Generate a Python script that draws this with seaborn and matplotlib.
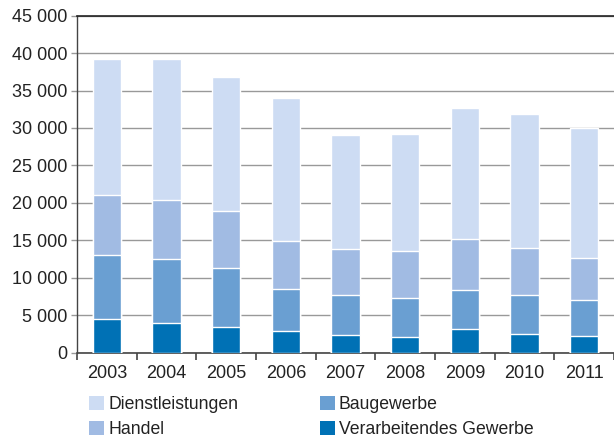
import matplotlib
matplotlib.use("Agg")
import matplotlib.pyplot as plt
import seaborn as sns
import pandas as pd
import numpy as np
from matplotlib.patches import Patch
from matplotlib.ticker import FuncFormatter, FixedLocator

# Employment by sector, 2003-2011
years = ["2003", "2004", "2005", "2006", "2007", "2008", "2009", "2010", "2011"]
verarbeitendes = [4500, 4000, 3400, 2900, 2400, 2100, 3200, 2500, 2200]
baugewerbe = [8500, 8500, 7900, 5600, 5300, 5200, 5200, 5200, 4800]
handel = [8000, 7900, 7600, 6400, 6100, 6300, 6800, 6300, 5600]
dienstleistungen = [18200, 18800, 17900, 19100, 15200, 15600, 17500, 17900, 17400]

series = ["Verarbeitendes Gewerbe", "Baugewerbe", "Handel", "Dienstleistungen"]
values = [verarbeitendes, baugewerbe, handel, dienstleistungen]
colors = ["#0071b5", "#6a9fd2", "#a1bbe3", "#cddcf3"]

df = pd.DataFrame({"Jahr": years})
cum = np.zeros(len(years))
for name, vals in zip(series, values):
    cum = cum + np.array(vals)
    df[name] = cum

sns.set_theme(style="white")
plt.rcParams["font.family"] = ["Liberation Sans", "DejaVu Sans"]
text_color = "#222222"

fig = plt.figure(figsize=(6.14, 4.38), dpi=100)
ax = fig.add_axes([77 / 614, 1 - 352.5 / 438, (614 - 77) / 614, (352.5 - 15.7) / 438])

# stacked bars: draw cumulative totals from the top segment down
for name, color in zip(series[::-1], colors[::-1]):
    sns.barplot(data=df, x="Jahr", y=name, color=color, width=0.48,
                saturation=1, ax=ax, zorder=3)

ax.set_ylim(0, 45000)
ax.set_xlim(-0.5, len(years) - 0.5)
ax.set_yticks(np.arange(0, 45001, 5000))
ax.yaxis.set_major_formatter(FuncFormatter(lambda v, p: f"{int(v):,}".replace(",", " ")))
ax.set_xlabel("")
ax.set_ylabel("")

ax.grid(axis="y", color="#999999", linewidth=1.0, zorder=0)
ax.set_axisbelow(True)

ax.spines["right"].set_visible(False)
ax.spines["top"].set_color("#222222")
ax.spines["top"].set_linewidth(1.2)
ax.spines["left"].set_color("#444444")
ax.spines["bottom"].set_color("#444444")
ax.spines["left"].set_linewidth(1.0)
ax.spines["bottom"].set_linewidth(1.2)

ax.tick_params(axis="y", which="major", left=True, length=4, width=1, color="#999999",
               pad=3, labelsize=13, labelcolor=text_color)
ax.tick_params(axis="x", which="major", bottom=False, length=0, pad=9,
               labelsize=13, labelcolor=text_color)
ax.xaxis.set_minor_locator(FixedLocator(np.arange(-0.5, len(years), 1.0)))
ax.tick_params(axis="x", which="minor", bottom=True, length=5, width=1.2, color="#444444")

# legend filled column-wise: Dienstleistungen, Handel | Baugewerbe, Verarbeitendes Gewerbe
handles = [Patch(facecolor=c, edgecolor="none") for c in colors[::-1]]
labels = series[::-1]
fig.legend(handles, labels,
           ncol=2, loc="upper left", bbox_to_anchor=(89 / 614, 1 - 396 / 438),
           frameon=False, fontsize=12.7, labelcolor=text_color,
           handlelength=0.85, handleheight=0.85, handletextpad=0.25,
           columnspacing=4.6, labelspacing=0.45, borderaxespad=0, borderpad=0)

fig.savefig("out.png", dpi=100)
